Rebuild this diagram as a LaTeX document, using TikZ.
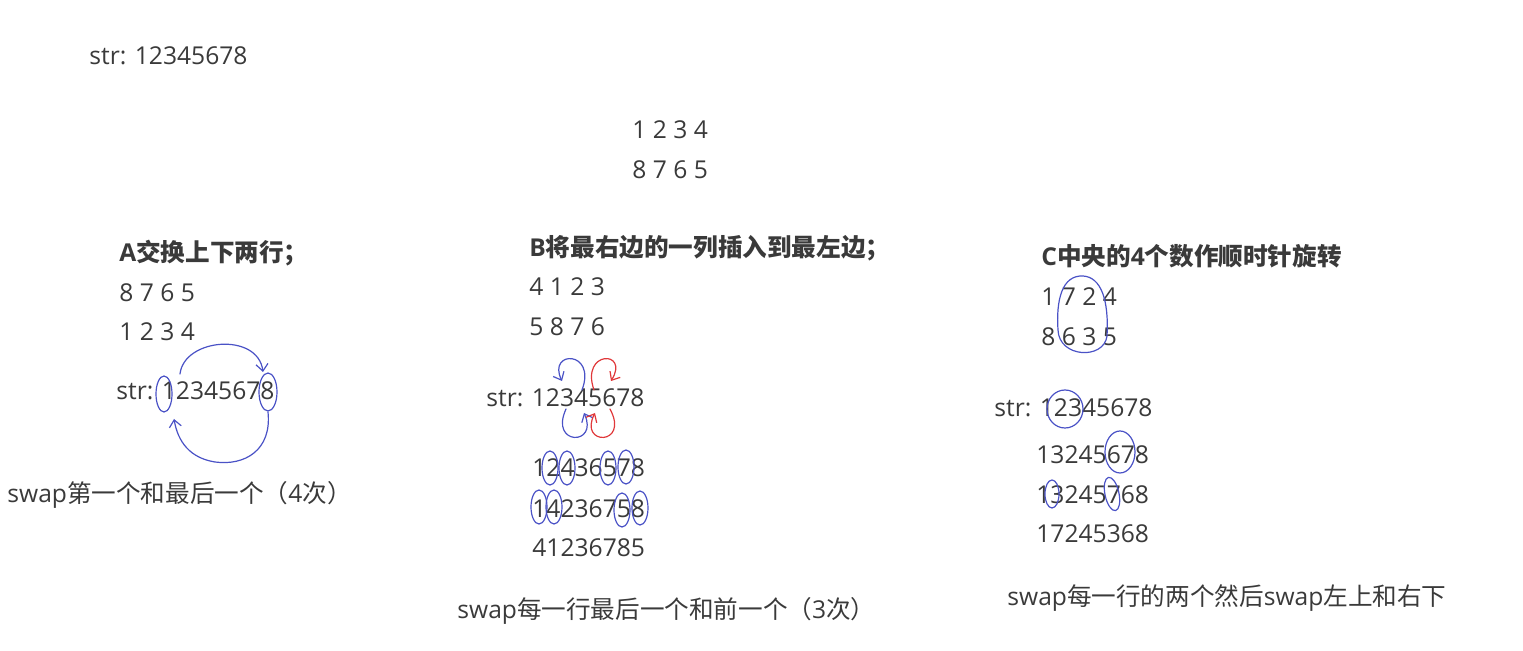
\documentclass[tikz,border=0pt]{standalone}
\usepackage{fontspec}
\setmainfont{Open Sans}
\newfontfamily\cjk{Noto Sans CJK SC}
\usetikzlibrary{arrows.meta}
\definecolor{txtgray}{HTML}{3A3A3A}
\definecolor{inkblue}{HTML}{4A52C6}
\definecolor{inkred}{HTML}{E0383A}
\tikzset{
  txt/.style={anchor=base west, inner sep=0pt, text=txtgray, font=\fontsize{12.3}{15}\selectfont},
  head/.style={txt, font=\fontsize{12.3}{15}\selectfont\bfseries},
  ink/.style={draw=inkblue, line width=0.6pt, line cap=round, line join=round},
  redink/.style={ink, draw=inkred},
  swaparrow/.style={-{Straight Barb[length=3.5pt,width=6pt]}},
}
\begin{document}
\begin{tikzpicture}[x=0.5pt, y=-0.5pt]
  \useasboundingbox (0,0) rectangle (1523,651);
  % start
  \node[txt] (top) at (89,65) {str: 12345678};
  \node[txt] (m1) at (632,139) {1 2 3 4};
  \node[txt] (m2) at (632,179) {8 7 6 5};

  % A
  \node[head] (ha) at (119,262) {A{\cjk 交换上下两行；}};
  \node[txt] (a1) at (119,302) {8 7 6 5};
  \node[txt] (a2) at (119,341) {1 2 3 4};
  \node[txt] (astr) at (116,400) {str: 12345678};
  \node[txt] (aswap) at (7,503) {swap{\cjk 第一个和最后一个（}4{\cjk 次）}};
  \coordinate (afirst) at (164,394);
  \coordinate (alast) at (268,392);
  \coordinate (afirsttop) at (180,374);
  \coordinate (afirstbot) at (174,419);
  \coordinate (alasttop) at (263,372);
  \coordinate (alastbot) at (268,412);
  \draw[ink] (afirst) ellipse (8 and 18);
  \draw[ink] (alast) ellipse (9 and 19);
  \draw[ink, swaparrow] (afirsttop) .. controls (184,338) and (258,332) .. (alasttop);
  \draw[ink, swaparrow] (alastbot) .. controls (272,450) and (245,466) .. (215,462) .. controls (190,458) and (178,442) .. (afirstbot);

  % B
  \node[head] (hb) at (529,257) {B{\cjk 将最右边的一列插入到最左边；}};
  \node[txt] (b1) at (529,296) {4 1 2 3};
  \node[txt] (b2) at (529,336) {5 8 7 6};
  \node[txt] (bstr) at (486,407) {str: 12345678};
  \node[txt] (b3) at (532,477) {12436578};
  \node[txt] (b4) at (532,518) {14236758};
  \node[txt] (b5) at (532,557) {41236785};
  \node[txt] (bswap) at (457,619) {swap{\cjk 每一行最后一个和前一个（}3{\cjk 次）}};
  \draw[ink, swaparrow] (582,390) .. controls (597,350) and (547,350) .. (562,381);
  \draw[ink, swaparrow] (566,409) .. controls (549,446) and (599,446) .. (584,413);
  \draw[redink, swaparrow] (594,390) .. controls (580,350) and (630,350) .. (611,381);
  \draw[redink, swaparrow] (610,409) .. controls (630,446) and (578,446) .. (595,413);
  \foreach \x/\y in {550/468, 567/468, 608/468, 626/467, 539/507, 554/507, 622/510, 640/508}
    \draw[ink] (\x,\y) ellipse (8 and 17);

  % C
  \node[head] (hc) at (1041,266) {C{\cjk 中央的}4{\cjk 个数作顺时针旋转}};
  \node[txt] (c1) at (1041,306) {1 7 2 4};
  \node[txt] (c2) at (1041,346) {8 6 3 5};
  \node[txt] (cstr) at (994,417) {str: 12345678};
  \node[txt] (c3) at (1036,464) {13245678};
  \node[txt] (c4) at (1036,504) {13245768};
  \node[txt] (c5) at (1036,543) {17245368};
  \node[txt] (cswap) at (1007,606) {swap{\cjk 每一行的两个然后}swap{\cjk 左上和右下}};
  \draw[ink] (1083,276) .. controls (1062,275) and (1056,300) .. (1058,330)
    .. controls (1059,358) and (1104,360) .. (1107,336)
    .. controls (1109,300) and (1101,277) .. cycle;
  \draw[ink] (1065,409) ellipse (18 and 19);
  \draw[ink] (1120,452) ellipse (15 and 21);
  \draw[ink] (1052,494) ellipse (7 and 14);
  \draw[ink, rotate around={12:(1112,494)}] (1112,494) ellipse (7 and 17);
\end{tikzpicture}
\end{document}
